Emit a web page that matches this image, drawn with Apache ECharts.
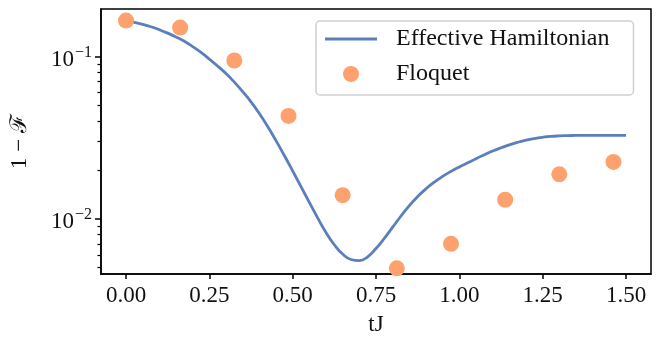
<!DOCTYPE html>
<html>
<head>
<meta charset="utf-8">
<script src="https://cdn.jsdelivr.net/npm/echarts@6/dist/echarts.min.js"></script>
<style>
  html, body { margin: 0; padding: 0; background: #fff; }
  #chart { width: 662px; height: 341px; }
</style>
</head>
<body>
<div id="chart"></div>
<script>
// 有效哈密顿量曲线（读图取值，步长 0.025）
const lineX = [
  0.000, 0.025, 0.050, 0.075, 0.100, 0.125, 0.150, 0.175, 0.200, 0.225,
  0.250, 0.275, 0.300, 0.325, 0.350, 0.375, 0.400, 0.425, 0.450, 0.475,
  0.500, 0.525, 0.550, 0.575, 0.600, 0.625, 0.650, 0.675, 0.700, 0.725,
  0.750, 0.775, 0.800, 0.825, 0.850, 0.875, 0.900, 0.925, 0.950, 0.975,
  1.000, 1.025, 1.050, 1.075, 1.100, 1.125, 1.150, 1.175, 1.200, 1.225,
  1.250, 1.275, 1.300, 1.325, 1.350, 1.375, 1.400, 1.425, 1.450, 1.475,
  1.500,
]
const lineY = [
  0.1666, 0.1625, 0.1580, 0.1527, 0.1465, 0.1396, 0.1321, 0.1242, 0.1153, 0.1061,
  0.0966, 0.0874, 0.0786, 0.0696, 0.0609, 0.05267, 0.04464, 0.03706, 0.03034, 0.02457,
  0.01976, 0.01581, 0.01264, 0.01014, 0.00824, 0.00693, 0.00607, 0.00562, 0.00553, 0.00584,
  0.00657, 0.00759, 0.00889, 0.01042, 0.01208, 0.01373, 0.01533, 0.01684, 0.01827, 0.01963,
  0.02091, 0.02215, 0.02351, 0.02484, 0.02618, 0.02743, 0.02860, 0.02964, 0.03055, 0.03128,
  0.03184, 0.03224, 0.03246, 0.03259, 0.03268, 0.03273, 0.03273, 0.03273, 0.03273, 0.03273,
  0.03273,
]

// Floquet 数值点
const floquetX = [0, 0.1625, 0.325, 0.4875, 0.65, 0.8125, 0.975, 1.1375, 1.3, 1.4625]
const floquetY = [0.1667, 0.151, 0.0946, 0.0431, 0.0140, 0.00496, 0.00702, 0.01312, 0.01883, 0.02243]

// 刻度
const xTicks = [0, 0.25, 0.5, 0.75, 1.0, 1.25, 1.5]
const yMajorTicks = [0.01, 0.1]
const yMinorTicks = [0.005, 0.006, 0.007, 0.008, 0.009, 0.02, 0.03, 0.04, 0.05, 0.06, 0.07, 0.08, 0.09]

const FONT = 'Liberation Serif'
const LINE_COLOR = '#5b7fbd'
const DOT_COLOR = '#ffa06f'
const Y_MIN = Math.log10(0.004575)
const Y_MAX = Math.log10(0.1965)
const lg = (v) => Math.log10(v)

const chart = echarts.init(document.getElementById('chart'))

chart.setOption({
  animation: false,
  grid: {
    left: 101, right: 11, top: 9, bottom: 59,
    show: true, borderColor: '#000', borderWidth: 1.5, backgroundColor: 'transparent',
  },
  legend: {
    orient: 'vertical',
    left: 316, top: 21,
    padding: [6, 24, 9, 9],
    itemWidth: 52, itemHeight: 16, itemGap: 11,
    borderColor: '#d0d0d0', borderWidth: 1.5, borderRadius: 4,
    backgroundColor: 'rgba(255,255,255,0.8)',
    textStyle: { fontFamily: FONT, fontSize: 24, color: '#111', lineHeight: 24, padding: [0, 0, 0, 14] },
    data: [
      // 图例里只画一条线段
      { name: 'Effective Hamiltonian', icon: 'path://M0,0 H52 V2.8 H0 Z', itemStyle: { color: LINE_COLOR } },
      { name: 'Floquet', icon: 'circle' },
    ],
  },
  xAxis: {
    type: 'value',
    min: -0.075, max: 1.575,
    name: 'tJ', nameLocation: 'middle', nameGap: 39,
    nameTextStyle: { fontFamily: FONT, fontSize: 23, color: '#111' },
    axisLine: { onZero: false, lineStyle: { color: '#000', width: 1.5 } },
    axisTick: { customValues: xTicks, length: 5, lineStyle: { color: '#000', width: 1.5 } },
    axisLabel: {
      customValues: xTicks, margin: 10,
      fontFamily: FONT, fontSize: 23, color: '#111',
      formatter: (v) => v.toFixed(2),
    },
    splitLine: { show: false },
  },
  yAxis: [
    {
      type: 'value',
      position: 'left',
      min: Y_MIN, max: Y_MAX,
      name: '1 − ℱ', nameLocation: 'middle', nameGap: 70, nameRotate: 90,
      nameTextStyle: { fontFamily: FONT, fontSize: 23, color: '#111' },
      axisLine: { onZero: false, lineStyle: { color: '#000', width: 1.5 } },
      axisTick: { customValues: yMajorTicks.map(lg), length: 6, lineStyle: { color: '#000', width: 1.5 } },
      axisLabel: {
        customValues: yMajorTicks.map(lg), margin: 9,
        formatter: (v) => '{m|10}{s|−' + Math.round(-v) + '}',
        rich: {
          m: { fontFamily: FONT, fontSize: 23, color: '#111', padding: [6, 0, 0, 0] },
          s: { fontFamily: FONT, fontSize: 16, color: '#111', padding: [0, 0, 8, 1] },
        },
      },
      splitLine: { show: false },
    },
    {
      // 次刻度
      type: 'value',
      position: 'left',
      min: Y_MIN, max: Y_MAX,
      axisLine: { show: false, onZero: false },
      axisTick: { customValues: yMinorTicks.map(lg), length: 3.5, lineStyle: { color: '#000', width: 1.2 } },
      axisLabel: { show: false },
      splitLine: { show: false },
    },
  ],
  series: [
    {
      name: 'Effective Hamiltonian',
      type: 'line',
      smooth: true,
      symbol: 'none',
      data: lineX.map((x, i) => [x, lg(lineY[i])]),
      lineStyle: { color: LINE_COLOR, width: 2.8 },
      itemStyle: { color: LINE_COLOR },
      z: 2,
    },
    {
      name: 'Floquet',
      type: 'scatter',
      symbol: 'circle',
      symbolSize: 16,
      data: floquetX.map((x, i) => [x, lg(floquetY[i])]),
      itemStyle: { color: DOT_COLOR, opacity: 1 },
      z: 3,
    },
  ],
})
</script>
</body>
</html>
